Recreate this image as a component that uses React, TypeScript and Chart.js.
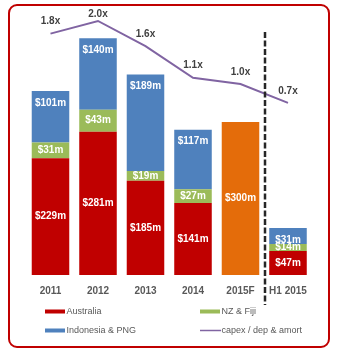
import React, { useEffect, useRef } from "react";
import { Chart, registerables } from "chart.js";

Chart.register(...registerables);

const categories = ["2011", "2012", "2013", "2014", "2015F", "H1 2015"];
const australia = [229, 281, 185, 141, null, 47];
const nzFiji = [31, 43, 19, 27, null, 14];
const indonesiaPng = [101, 140, 189, 117, null, 31];
const forecast = [null, null, null, null, 300, null];
const capexRatio = [1.8, 2.0, 1.6, 1.1, 1.0, 0.7];

const FONT = "'Liberation Sans', Arial, sans-serif";

const labelPlugin = {
  id: "customLabels",
  afterDatasetsDraw(chart: any) {
    const ctx = chart.ctx;
    const area = chart.chartArea;
    ctx.save();
    chart.data.datasets.forEach((ds: any, di: number) => {
      if (ds.type === "line") return;
      const meta = chart.getDatasetMeta(di);
      meta.data.forEach((el: any, i: number) => {
        const v = ds.data[i];
        if (v == null) return;
        const y = ds.labelAtTop ? el.y + 12 : (el.y + el.base) / 2;
        ctx.font = `bold 10px ${FONT}`;
        ctx.fillStyle = "#ffffff";
        ctx.textAlign = "center";
        ctx.textBaseline = "middle";
        ctx.fillText(`$${v}m`, el.x, y);
      });
    });
    chart.data.datasets.forEach((ds: any, di: number) => {
      if (ds.type !== "line") return;
      const meta = chart.getDatasetMeta(di);
      meta.data.forEach((pt: any, i: number) => {
        const v = ds.data[i];
        const y = Math.max(pt.y - 12, area.top - 0.5);
        ctx.font = `bold 10px ${FONT}`;
        ctx.fillStyle = "#404040";
        ctx.textAlign = "center";
        ctx.textBaseline = "middle";
        ctx.fillText(`${v.toFixed(1)}x`, pt.x, y);
      });
    });
    ctx.restore();
  },
  afterDraw(chart: any) {
    const ctx = chart.ctx;
    const area = chart.chartArea;
    const xs = chart.scales.x;
    const xSep = (xs.getPixelForValue(4) + xs.getPixelForValue(5)) / 2 + 0.75;
    ctx.save();
    ctx.strokeStyle = "#262626";
    ctx.lineWidth = 2.5;
    ctx.setLineDash([6, 2.5]);
    ctx.beginPath();
    ctx.moveTo(xSep, area.top + 17);
    ctx.lineTo(xSep, area.bottom + 30);
    ctx.stroke();
    ctx.setLineDash([]);

    const items = chart.data.datasets
      .filter((d: any) => d.legendIndex != null)
      .sort((a: any, b: any) => a.legendIndex - b.legendIndex);
    const cols = [45, 200];
    const rows = [311.5, 330.5];
    items.forEach((d: any, k: number) => {
      const x = cols[k % 2];
      const y = rows[Math.floor(k / 2)];
      if (d.type === "line") {
        ctx.strokeStyle = d.borderColor;
        ctx.lineWidth = 1.5;
        ctx.beginPath();
        ctx.moveTo(x, y);
        ctx.lineTo(x + 21, y);
        ctx.stroke();
      } else {
        ctx.fillStyle = d.backgroundColor;
        ctx.fillRect(x, y - 2, 20, 4);
      }
      ctx.font = `9px ${FONT}`;
      ctx.fillStyle = "#595959";
      ctx.textAlign = "left";
      ctx.textBaseline = "middle";
      ctx.fillText(d.label, x + 21.5, y);
    });
    ctx.restore();
  },
};

export default function App() {
  const ref = useRef<HTMLCanvasElement | null>(null);

  useEffect(() => {
    if (!ref.current) return;
    const chart = new Chart(ref.current, {
      type: "bar",
      data: {
        labels: categories,
        datasets: [
          {
            type: "line",
            label: "capex / dep & amort",
            data: capexRatio,
            borderColor: "#8064A2",
            backgroundColor: "#8064A2",
            borderWidth: 2,
            pointRadius: 0,
            tension: 0,
            yAxisID: "y2",
            order: 0,
            legendIndex: 3,
          } as any,
          {
            label: "Australia",
            data: australia,
            backgroundColor: "#C00000",
            stack: "s",
            order: 1,
            legendIndex: 0,
          } as any,
          {
            label: "NZ & Fiji",
            data: nzFiji,
            backgroundColor: "#9BBB59",
            stack: "s",
            order: 1,
            legendIndex: 1,
          } as any,
          {
            label: "Indonesia & PNG",
            data: indonesiaPng,
            backgroundColor: "#4F81BD",
            stack: "s",
            order: 1,
            legendIndex: 2,
            labelAtTop: true,
          } as any,
          {
            label: "2015F",
            data: forecast,
            backgroundColor: "#E46C0A",
            stack: "s",
            order: 1,
          } as any,
        ],
      },
      options: {
        responsive: false,
        animation: false,
        devicePixelRatio: 1,
        layout: { padding: { left: 26.75, right: 27.25, top: 15, bottom: 50 } },
        datasets: { bar: { barPercentage: 0.79, categoryPercentage: 1 } },
        plugins: {
          legend: { display: false },
          tooltip: { enabled: false },
        },
        scales: {
          x: {
            stacked: true,
            grid: { display: false, drawTicks: false },
            border: { display: false },
            ticks: {
              padding: 10,
              color: "#595959",
              font: { family: FONT, size: 10, weight: "bold" },
            },
          },
          y: {
            stacked: true,
            display: false,
            min: 0,
            max: 509.8,
          },
          y2: {
            display: false,
            min: -2.03,
            max: 2.095,
          },
        },
      } as any,
      plugins: [labelPlugin],
    });
    return () => chart.destroy();
  }, []);

  return (
    <div style={{ position: "absolute", left: 0, top: 0, width: 339, height: 357, background: "#fff" }}>
      <canvas ref={ref} width={339} height={357} style={{ display: "block", width: 339, height: 357 }} />
      <div
        style={{
          position: "absolute",
          left: 8,
          top: 4,
          width: 322,
          height: 344,
          boxSizing: "border-box",
          border: "2px solid #C00000",
          borderRadius: 9,
          pointerEvents: "none",
        }}
      />
    </div>
  );
}
